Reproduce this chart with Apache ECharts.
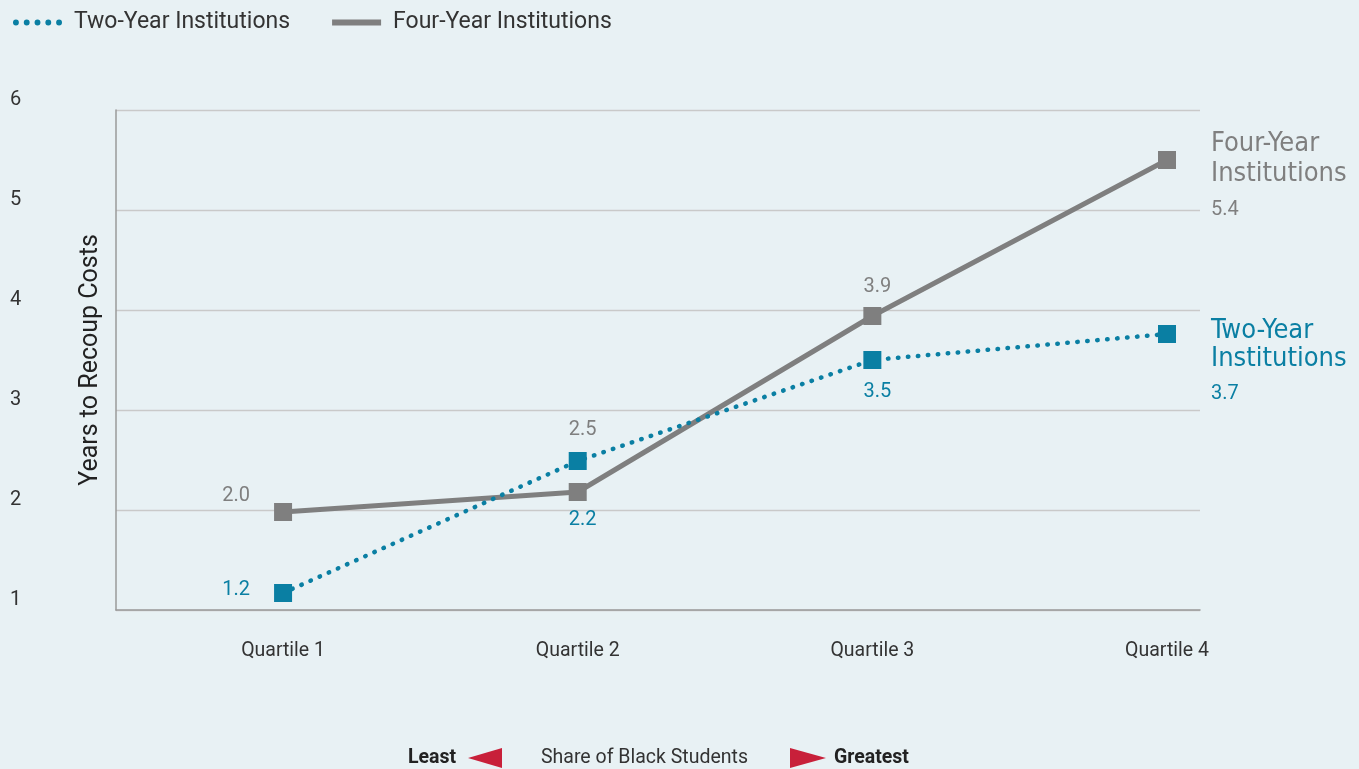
<!DOCTYPE html>
<html>
<head>
<meta charset="utf-8">
<script src="https://cdn.jsdelivr.net/npm/echarts@6/dist/echarts.min.js"></script>
<style>
html,body{margin:0;padding:0;background:#e8f1f4;}
#c{width:1359px;height:769px;}
</style>
</head>
<body>
<div id="c"></div>
<script>
var categories = ['Quartile 1', 'Quartile 2', 'Quartile 3', 'Quartile 4'];
var twoYear = [1.17, 2.49, 3.5, 3.76];
var fourYear = [1.98, 2.18, 3.94, 5.5];
var twoLabels = ['1.2', '2.2', '3.5', '3.7'];
var fourLabels = ['2.0', '2.5', '3.9', '5.4'];
var yTicks = [1, 2, 3, 4, 5, 6];

var TEAL = '#0a7fa3';
var GRAY = '#7f7f7f';
var FONT = 'Roboto';
var NARROW = "'Liberation Sans Narrow', 'DejaVu Sans Condensed', 'Roboto Condensed', Roboto";

// label placement (style only)
var fourLabelPos = [[-33, -16, 'right'], [5, -62, 'center'], [5, -29, 'center'], null];
var twoLabelPos = [[-33, -3, 'right'], [5, 59, 'center'], [5, 32, 'center'], null];

function buildData(vals, labels, pos, color, name) {
  return vals.map(function (v, i) {
    var item = { value: [i + 1, v] };
    if (pos[i]) {
      item.label = {
        show: true,
        position: 'inside',
        offset: [pos[i][0], pos[i][1]],
        align: pos[i][2],
        verticalAlign: 'middle',
        formatter: labels[i],
        color: color,
        fontFamily: FONT,
        fontSize: 20
      };
    } else {
      item.label = {
        show: true,
        position: [53, name === 'four' ? -22 : -8],
        align: 'left',
        verticalAlign: 'top',
        formatter: (name === 'four' ? '{n|Four-Year}\n{n|Institutions}\n{v|' : '{n|Two-Year}\n{n|Institutions}\n{v|') + labels[i] + '}',
        rich: {
          n: { fontFamily: NARROW, fontSize: 27, lineHeight: name === 'four' ? 30 : 28, color: color },
          v: { fontFamily: FONT, fontSize: 20, lineHeight: 42, color: color }
        }
      };
    }
    return item;
  });
}

var dotPath = 'path://M0,3a3,3 0 1,0 6,0a3,3 0 1,0 -6,0z M11,3a3,3 0 1,0 6,0a3,3 0 1,0 -6,0z M22,3a3,3 0 1,0 6,0a3,3 0 1,0 -6,0z M33,3a3,3 0 1,0 6,0a3,3 0 1,0 -6,0z M44,3a3,3 0 1,0 6,0a3,3 0 1,0 -6,0z';

var chart = echarts.init(document.getElementById('c'));
chart.setOption({
  backgroundColor: '#e8f1f4',
  animation: false,
  legend: {
    left: 8,
    top: 6,
    itemGap: 42,
    textStyle: { color: '#333', fontFamily: FONT, fontSize: 23, padding: [0, 0, 0, 7] },
    data: [
      { name: 'Two-Year Institutions', icon: dotPath, itemStyle: { color: TEAL } },
      { name: 'Four-Year Institutions', icon: 'rect', itemStyle: { color: GRAY } }
    ],
    itemWidth: 49,
    itemHeight: 6
  },
  grid: { left: 116, right: 159, top: 110, bottom: 159, containLabel: false, outerBoundsMode: 'none' },
  xAxis: {
    type: 'value',
    min: 0.433,
    max: 4.112,
    splitLine: { show: false },
    axisTick: { show: false },
    axisLine: { show: true, lineStyle: { color: '#9a9a9a', width: 1.5 } },
    axisLabel: {
      customValues: [1, 2, 3, 4],
      formatter: function (v) { return categories[Math.round(v) - 1]; },
      color: '#333',
      fontFamily: FONT,
      fontSize: 19.5,
      margin: 31
    }
  },
  yAxis: {
    type: 'value',
    min: 1,
    max: 6,
    interval: 1,
    name: 'Years to Recoup Costs',
    nameLocation: 'middle',
    nameGap: 13,
    nameMoveOverlap: false,
    nameTextStyle: { color: '#222', fontFamily: FONT, fontSize: 25 },
    axisLine: { show: true, lineStyle: { color: '#9a9a9a', width: 1.5 } },
    axisTick: { show: false },
    splitLine: { lineStyle: { color: '#c9c9c9', width: 1.3 } },
    axisLabel: {
      color: '#333',
      fontFamily: FONT,
      fontSize: 20,
      align: 'left',
      margin: 106,
      verticalAlign: 'bottom',
      formatter: function (v) { return yTicks.indexOf(v) >= 0 ? String(v) : ''; }
    }
  },
  series: [
    {
      name: 'Four-Year Institutions',
      type: 'line',
      z: 2,
      symbol: 'rect',
      symbolSize: 18,
      itemStyle: { color: GRAY },
      lineStyle: { color: GRAY, width: 5 },
      data: buildData(fourYear, fourLabels, fourLabelPos, GRAY, 'four')
    },
    {
      name: 'Two-Year Institutions',
      type: 'line',
      z: 3,
      symbol: 'rect',
      symbolSize: 18,
      itemStyle: { color: TEAL },
      lineStyle: { color: TEAL, width: 4.5, type: [0.5, 9.5], cap: 'round' },
      data: buildData(twoYear, twoLabels, twoLabelPos, TEAL, 'two')
    }
  ],
  graphic: [
    { type: 'text', left: 408, top: 748, style: { text: 'Least', fill: '#222', font: 'bold 19.5px ' + FONT } },
    { type: 'polygon', shape: { points: [[468, 758], [502, 748], [502, 768]] }, style: { fill: '#c8203a' } },
    { type: 'text', left: 541, top: 748, style: { text: 'Share of Black Students', fill: '#333', font: '19.5px ' + FONT } },
    { type: 'polygon', shape: { points: [[790, 748], [826, 758], [790, 768]] }, style: { fill: '#c8203a' } },
    { type: 'text', left: 834, top: 748, style: { text: 'Greatest', fill: '#222', font: 'bold 19.5px ' + FONT } }
  ]
});
</script>
</body>
</html>
